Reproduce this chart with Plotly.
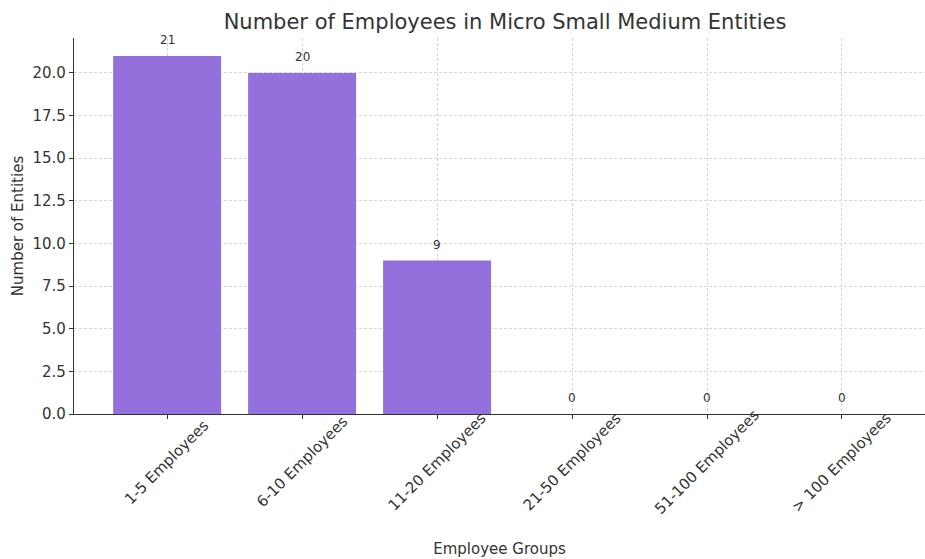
import plotly.graph_objects as go

categories = ["1-5 Employees", "6-10 Employees", "11-20 Employees",
              "21-50 Employees", "51-100 Employees", "> 100 Employees"]
counts = [21, 20, 9, 0, 0, 0]
y_ticks = [0, 2.5, 5, 7.5, 10, 12.5, 15, 17.5, 20]

FONT = "DejaVu Sans"
TXT = "#333333"
GRID = "#d6d6d6"
idx = list(range(len(categories)))

fig = go.Figure()
fig.add_trace(go.Bar(
    x=idx, y=counts, width=0.8,
    marker=dict(color="mediumpurple", line=dict(width=0)),
    hoverinfo="x+y",
))

annotations = []
for i, v in zip(idx, counts):
    annotations.append(dict(x=i, y=v, xref="x", yref="y", text=str(v),
                            showarrow=False, yanchor="bottom", yshift=7,
                            font=dict(family=FONT, size=12, color=TXT)))
for i, c in zip(idx, categories):
    annotations.append(dict(x=i, y=-0.128, xref="x", yref="paper", text=c,
                            showarrow=False, textangle=-45,
                            xanchor="center", yanchor="middle",
                            font=dict(family=FONT, size=15, color=TXT)))

fig.update_layout(
    width=925, height=559,
    margin=dict(l=74, r=0, t=38, b=145),
    paper_bgcolor="white", plot_bgcolor="white",
    font=dict(family=FONT, color=TXT),
    showlegend=False,
    title=dict(text="Number of Employees in Micro Small Medium Entities",
               x=0.5065, xref="paper", xanchor="center", y=0.962, yanchor="middle",
               font=dict(family=FONT, size=21, color=TXT)),
    annotations=annotations,
    xaxis=dict(range=[-0.69, 5.615], tickvals=idx, ticktext=categories,
               showticklabels=False,
               showgrid=True, gridcolor=GRID, griddash="3px,2px", gridwidth=0.8,
               ticks="outside", ticklen=4, tickcolor="#333333",
               showline=True, linecolor="#333333", linewidth=1.2,
               zeroline=False,
               title=dict(text="Employee Groups", standoff=125,
                          font=dict(family=FONT, size=15, color=TXT))),
    yaxis=dict(range=[0, 22.05], tickvals=y_ticks, tickformat=".1f",
               showgrid=True, gridcolor=GRID, griddash="3px,2px", gridwidth=0.8,
               ticks="outside", ticklen=4, tickcolor="#333333",
               showline=True, linecolor="#333333", linewidth=1.2,
               zeroline=False,
               tickfont=dict(family=FONT, size=15, color=TXT),
               title=dict(text="Number of Entities", standoff=5,
                          font=dict(family=FONT, size=15, color=TXT))),
)

fig.write_html("out.html")
